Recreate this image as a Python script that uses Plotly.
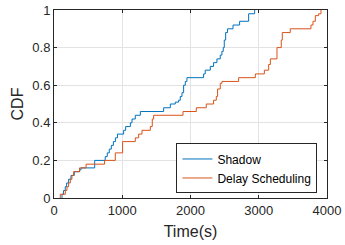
import plotly.graph_objects as go

# Step points (time in s, CDF value after the step)
shadow_t = [117, 117, 140, 165, 185, 214, 249, 297, 375, 396, 596, 750, 780, 810, 840,
            870, 900, 930, 1020, 1050, 1119, 1143, 1191, 1265, 1606, 1704, 1777, 1826,
            1850, 1875, 1899, 1924, 1948, 2192, 2216, 2290, 2338, 2387, 2436, 2460,
            2480, 2495, 2515, 2543, 2623, 2720, 2852, 2940]
shadow_cdf = [0.0, 0.02, 0.04, 0.06, 0.08, 0.10, 0.12, 0.14, 0.15, 0.16, 0.20, 0.22, 0.24,
              0.26, 0.28, 0.30, 0.32, 0.34, 0.36, 0.38, 0.40, 0.42, 0.44, 0.46, 0.48,
              0.50, 0.51, 0.52, 0.54, 0.56, 0.60, 0.62, 0.64, 0.66, 0.68, 0.70, 0.72,
              0.74, 0.76, 0.78, 0.80, 0.84, 0.88, 0.90, 0.92, 0.94, 0.98, 1.0]

delay_t = [92, 92, 166, 190, 214, 239, 263, 287, 375, 470, 741, 898, 1005, 1191, 1240,
           1289, 1411, 1440, 1460, 1890, 2085, 2231, 2338, 2378, 2397, 2436, 2461, 2705,
           2950, 3082, 3145, 3170, 3267, 3330, 3345, 3462, 3765, 3795, 3829, 3877, 3912]
delay_cdf = [0.0, 0.02, 0.04, 0.06, 0.08, 0.10, 0.12, 0.14, 0.16, 0.18, 0.20, 0.24, 0.30,
             0.32, 0.34, 0.36, 0.38, 0.42, 0.44, 0.46, 0.48, 0.50, 0.52, 0.54, 0.58,
             0.61, 0.62, 0.64, 0.66, 0.68, 0.71, 0.74, 0.80, 0.84, 0.88, 0.90, 0.92,
             0.94, 0.97, 0.98, 1.0]

x_ticks = [0, 1000, 2000, 3000, 4000]
y_ticks = [0, 0.2, 0.4, 0.6, 0.8, 1]
y_tick_labels = ["0", "0.2", "0.4", "0.6", "0.8", "1"]

FONT = "Liberation Sans, Arial, Helvetica, sans-serif"
AX = "#262626"

fig = go.Figure()
fig.add_trace(go.Scatter(x=shadow_t, y=shadow_cdf, mode="lines", name="Shadow",
                         line=dict(shape="hv", color="#0072BD", width=1)))
fig.add_trace(go.Scatter(x=delay_t, y=delay_cdf, mode="lines", name="Delay Scheduling",
                         line=dict(shape="hv", color="#D95319", width=1)))

axis_common = dict(showline=True, linecolor=AX, linewidth=1, mirror="ticks",
                   ticks="inside", ticklen=3, tickcolor=AX, tickwidth=1,
                   showgrid=True, gridcolor="#e3e3e3", gridwidth=1, zeroline=False,
                   automargin=False,
                   tickfont=dict(family=FONT, size=13, color=AX))

fig.update_xaxes(range=[0, 4000], tickvals=x_ticks,
                 title=dict(text="Time(s)", font=dict(family=FONT, size=16, color=AX), standoff=9),
                 **axis_common)
fig.update_yaxes(range=[0, 1], tickvals=y_ticks, ticktext=y_tick_labels,
                 title=dict(text="CDF", font=dict(family=FONT, size=16, color=AX), standoff=4),
                 **axis_common)

fig.update_layout(
    width=345, height=245,
    margin=dict(l=54, r=18, t=10, b=47, autoexpand=False),
    paper_bgcolor="white", plot_bgcolor="white",
    showlegend=True,
    legend=dict(x=0.965, y=0.157, xanchor="right", yanchor="middle",
                bgcolor="white", bordercolor=AX, borderwidth=1,
                font=dict(family=FONT, size=12, color="black"),
                itemwidth=30, tracegroupgap=0),
)

fig.write_html("out.html", config={"displayModeBar": False},
               post_script="document.body.style.margin='0';document.body.style.overflow='hidden';")
